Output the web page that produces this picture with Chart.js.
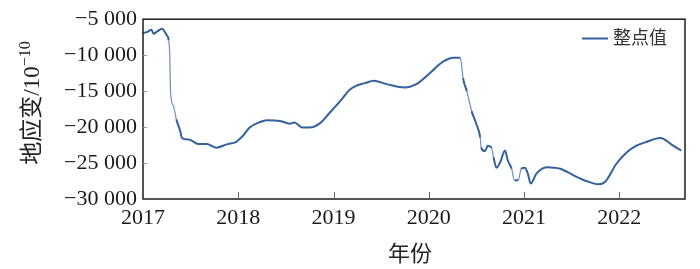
<!DOCTYPE html>
<html>
<head>
<meta charset="utf-8">
<script src="https://cdn.jsdelivr.net/npm/chart.js@4/dist/chart.umd.min.js"></script>
<style>
html, body { margin: 0; padding: 0; background: #fff; }
#wrap { width: 700px; height: 269px; }
</style>
</head>
<body>
<div id="wrap"><canvas id="strainChart"></canvas></div>
<script>
// time in decimal years
var years = [
    2017.00, 2017.04, 2017.09, 2017.11, 2017.15, 2017.20, 2017.21, 2017.25, 2017.27, 2017.28,
    2017.29, 2017.32, 2017.35, 2017.39, 2017.41, 2017.49, 2017.58, 2017.67, 2017.77, 2017.88,
    2017.98, 2018.02, 2018.05, 2018.12, 2018.23, 2018.30, 2018.44, 2018.54, 2018.59, 2018.63,
    2018.67, 2018.75, 2018.86, 2018.96, 2019.07, 2019.17, 2019.24, 2019.33, 2019.42, 2019.56,
    2019.75, 2019.87, 2020.01, 2020.15, 2020.26, 2020.33, 2020.34, 2020.36, 2020.40, 2020.45,
    2020.50, 2020.54, 2020.55, 2020.59, 2020.62, 2020.66, 2020.68, 2020.71, 2020.75, 2020.80,
    2020.83, 2020.87, 2020.90, 2020.94, 2020.97, 2021.01, 2021.04, 2021.07, 2021.13, 2021.24,
    2021.38, 2021.52, 2021.66, 2021.78, 2021.85, 2021.97, 2022.08, 2022.18, 2022.29, 2022.43,
    2022.47, 2022.55, 2022.65
];
var strain = [
    -6920, -6800, -6470, -7020, -6700, -6330, -6420, -7240, -7930, -9770,
    -15260, -17090, -18920, -20530, -21530, -21760, -22350, -22350, -22860, -22400,
    -22040, -21600, -21210, -20070, -19290, -19060, -19150, -19520, -19380, -19700,
    -20070, -20070, -19450, -18010, -16400, -14800, -14250, -13890, -13560, -14030,
    -14480, -14030, -12520, -10910, -10360, -10360, -10910, -13200, -15030, -17780,
    -19600, -21450, -22820, -23370, -22590, -22910, -24190, -25650, -24880, -23270,
    -24650, -25790, -27400, -27400, -25790, -25650, -26480, -27850, -26480, -25570,
    -25790, -26710, -27530, -27950, -27630, -25100, -23510, -22590, -22040, -21530,
    -21670, -22450, -23270
];
var seriesName = '整点值';
var xTickYears = [2017, 2018, 2019, 2020, 2021, 2022];
var yTicks = [-30000, -25000, -20000, -15000, -10000, -5000];

var serif = "'Liberation Serif', 'Noto Sans CJK SC', serif";
var lineColor = '#33609f';

function fmtThousands(v) {
    var s = String(Math.abs(v));
    var out = '';
    while (s.length > 3) {
        out = ' ' + s.slice(-3) + out;
        s = s.slice(0, -3);
    }
    out = s + out;
    return (v < 0 ? '\u2212' : '') + out;
}

var points = years.map(function (t, i) { return { x: t, y: strain[i] }; });

// steep drops are drawn thinner, like the sparse hourly points in the original
function isSteep(ctx) {
    var dx = Math.abs(ctx.p1.x - ctx.p0.x);
    var dy = Math.abs(ctx.p1.y - ctx.p0.y);
    return dy > 4 * dx;
}

// frame, inner ticks, axis titles and legend
var decorPlugin = {
    id: 'decor',
    afterDraw: function (chart) {
        var ctx = chart.ctx;
        var area = chart.chartArea;
        var xs = chart.scales.x;
        var ys = chart.scales.y;

        ctx.save();
        ctx.strokeStyle = '#1c1c1c';
        ctx.lineWidth = 1.5;
        ctx.strokeRect(area.left, area.top, area.right - area.left, area.bottom - area.top);

        ctx.lineWidth = 1;
        ctx.strokeStyle = '#666';
        xTickYears.forEach(function (yr) {
            if (yr === xTickYears[0]) return;
            var px = Math.round(xs.getPixelForValue(yr)) + 0.5;
            ctx.beginPath();
            ctx.moveTo(px, area.bottom);
            ctx.lineTo(px, area.bottom - 7);
            ctx.stroke();
        });
        ctx.strokeStyle = '#999';
        yTicks.forEach(function (v) {
            if (v === yTicks[0] || v === yTicks[yTicks.length - 1]) return;
            var py = Math.round(ys.getPixelForValue(v)) + 0.5;
            ctx.beginPath();
            ctx.moveTo(area.left, py);
            ctx.lineTo(area.left + 4, py);
            ctx.stroke();
        });

        // x title
        ctx.fillStyle = '#222';
        ctx.font = '22px ' + serif;
        ctx.textAlign = 'center';
        ctx.textBaseline = 'middle';
        ctx.fillText('年份', 410, 255);

        // y title with superscript
        var main = '地应变/10';
        var sup = '\u221210';
        ctx.font = '23px ' + serif;
        var wMain = ctx.measureText(main).width;
        ctx.font = '16px ' + serif;
        var wSup = ctx.measureText(sup).width;
        var total = wMain + wSup;
        ctx.translate(33, 103);
        ctx.rotate(-Math.PI / 2);
        ctx.textAlign = 'left';
        ctx.font = '23px ' + serif;
        ctx.fillText(main, -total / 2, 0);
        ctx.font = '16px ' + serif;
        ctx.fillText(sup, -total / 2 + wMain, -7);
        ctx.setTransform(1, 0, 0, 1, 0, 0);

        // legend
        ctx.strokeStyle = lineColor;
        ctx.lineWidth = 2;
        ctx.beginPath();
        ctx.moveTo(582, 38.5);
        ctx.lineTo(608, 38.5);
        ctx.stroke();
        ctx.fillStyle = '#333';
        ctx.font = '18px ' + serif;
        ctx.textAlign = 'left';
        ctx.textBaseline = 'middle';
        ctx.fillText(chart.data.datasets[0].label, 613, 39);
        ctx.restore();
    }
};

var strainChart = new Chart(document.getElementById('strainChart').getContext('2d'), {
    type: 'line',
    data: {
        datasets: [{
            label: seriesName,
            data: points,
            borderColor: lineColor,
            backgroundColor: lineColor,
            borderWidth: 2,
            pointRadius: 0,
            cubicInterpolationMode: 'monotone',
            segment: {
                borderWidth: function (ctx) { return isSteep(ctx) ? 1.2 : 2; },
                borderColor: function (ctx) { return isSteep(ctx) ? '#6f8fbf' : lineColor; }
            }
        }]
    },
    options: {
        responsive: true,
        maintainAspectRatio: false,
        animation: false,
        devicePixelRatio: 1,
        layout: { padding: { left: 0, right: 15, top: 17, bottom: 0 } },
        plugins: {
            legend: { display: false },
            tooltip: { enabled: false }
        },
        scales: {
            x: {
                type: 'linear',
                min: 2017,
                max: 2022.69,
                afterFit: function (s) { s.height = 70; },
                afterBuildTicks: function (s) {
                    s.ticks = xTickYears.map(function (v) { return { value: v }; });
                },
                grid: { display: false, drawTicks: false },
                border: { display: false },
                ticks: {
                    padding: 6,
                    color: '#1a1a1a',
                    font: { family: serif, size: 22 },
                    maxRotation: 0,
                    callback: function (v) { return String(v); }
                }
            },
            y: {
                min: -30000,
                max: -5000,
                afterFit: function (s) { s.width = 143; },
                afterBuildTicks: function (s) {
                    s.ticks = yTicks.map(function (v) { return { value: v }; });
                },
                grid: { display: false, drawTicks: false },
                border: { display: false },
                ticks: {
                    padding: 6,
                    color: '#1a1a1a',
                    font: { family: serif, size: 22 },
                    callback: function (v) { return fmtThousands(v); }
                }
            }
        }
    },
    plugins: [decorPlugin]
});
</script>
</body>
</html>
